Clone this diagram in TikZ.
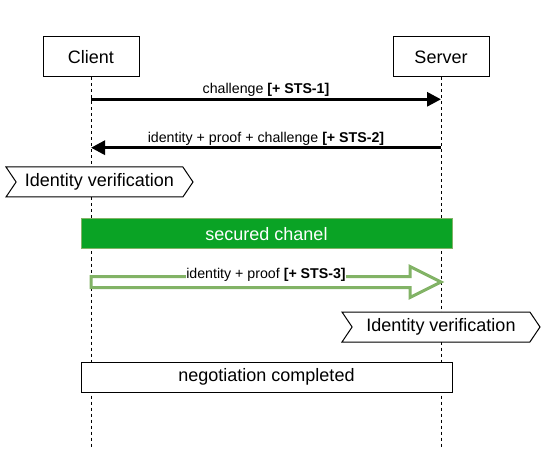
\documentclass[tikz,border=0pt]{standalone}
\usepackage{fontspec}
\setmainfont{Liberation Sans}
\usetikzlibrary{positioning,arrows.meta,calc,shapes.symbols}
\definecolor{chanGreen}{RGB}{10,163,37}
\definecolor{lineGreen}{RGB}{130,179,102}
\def\bigFont{\fontsize{18}{21}\selectfont}
\def\msgFont{\fontsize{14.2}{17}\selectfont}
\def\lineBottom{447}
\def\barW{371pt}
\def\borderW{1pt}
\tikzset
{
  Actor/.style=
  {
    draw,
    line width=\borderW,
    minimum width=96pt,
    minimum height=40pt,
    font=\bigFont,
  },
  Lifeline/.style=
  {
    line width=\borderW,
    dash pattern=on 3pt off 3pt,
  },
  Message/.style=
  {
    line width=3pt,
    -{Triangle[length=14pt,width=14pt]},
  },
  MsgLabel/.style={font=\msgFont, inner sep=1pt},
  Verify/.style=
  {
    draw,
    fill=white,
    line width=\borderW,
    signal,
    signal to=east,
    signal from=west,
    signal pointer angle=112,
    minimum height=30pt,
    font=\bigFont,
  },
  Bar/.style=
  {
    draw,
    line width=\borderW,
    minimum width=\barW,
    minimum height=30pt,
    font=\bigFont,
  }
}
\begin{document}
\begin{tikzpicture}
[
  x=1pt, y=-1pt, % one pixel of the drawing
  node distance=2pt,
  every node/.style={align=center},
]
\useasboundingbox (0,0) rectangle (551,470);
\node (client) [Actor] at (91,57) {Client};
\node (server) [Actor] at (441,57) {Server};

\coordinate (bottom) at (0,\lineBottom);
\coordinate (row1) at (0,99.3);
\coordinate (row2) at (0,147.7);
\coordinate (row3) at (0,282);
\draw [Lifeline] (client.south) -- (client.south |- bottom);
\draw [Lifeline] (server.south) -- (server.south |- bottom);

\draw [Message] (client |- row1) -- (server |- row1)
  node (msg1) [MsgLabel, midway, above] {challenge \textbf{[+ STS-1]}};
\draw [Message] (server |- row2) -- (client |- row2)
  node (msg2) [MsgLabel, midway, above] {identity + proof + challenge \textbf{[+ STS-2]}};

\node (verifyClient) [Verify, minimum width=187pt] at (99.5,182) {Identity verification};

\node (channel) [Bar, fill=chanGreen, draw=lineGreen, text=white] at (266.5,234) {secured chanel};

% hollow arrow inside the secured chanel
\coordinate (c3) at (client |- row3);
\coordinate (s3) at (server |- row3);
\draw [lineGreen, line width=3pt, fill=white]
  ($(c3)+(0,-5.5)$) -- ($(s3)+(-31,-5.5)$) -- ($(s3)+(-31,-15.5)$) -- (s3)
  -- ($(s3)+(-31,15.5)$) -- ($(s3)+(-31,5.5)$) -- ($(c3)+(0,5.5)$) -- cycle;
\node (msg3) [MsgLabel, fill=white, inner sep=0.5pt]
  at ($(c3)!0.5!(s3)+(0,-7.5)$) {identity + proof \textbf{[+ STS-3]}};

\node (verifyServer) [Verify, minimum width=198pt] at (441,327) {Identity verification};

\node (done) [Bar, fill=white] at (266.5,377) {negotiation completed};
\end{tikzpicture}
\end{document}
